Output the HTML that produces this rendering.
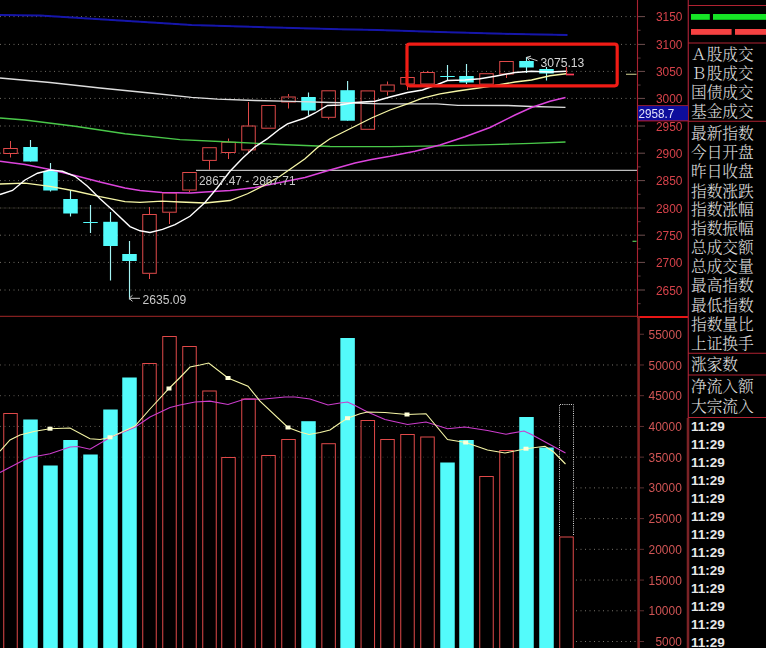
<!DOCTYPE html>
<html lang="zh-CN"><head><meta charset="utf-8"><title>K线图</title>
<style>html,body{margin:0;padding:0;background:#000;overflow:hidden}svg{display:block}</style></head>
<body>
<svg width="766" height="648" viewBox="0 0 766 648" style="display:block;background:#000">
<defs><filter id="b" x="-5%" y="-5%" width="110%" height="110%"><feGaussianBlur stdDeviation="0.6"/></filter></defs>
<rect width="766" height="648" fill="#000"/>
<g filter="url(#b)">
<line x1="0" x2="637" y1="16.6" y2="16.6" stroke="#706c64" stroke-width="1" stroke-dasharray="1 3.5"/>
<line x1="0" x2="637" y1="44.4" y2="44.4" stroke="#706c64" stroke-width="1" stroke-dasharray="1 3.5"/>
<line x1="0" x2="637" y1="71.4" y2="71.4" stroke="#706c64" stroke-width="1" stroke-dasharray="1 3.5"/>
<line x1="0" x2="637" y1="98.4" y2="98.4" stroke="#706c64" stroke-width="1" stroke-dasharray="1 3.5"/>
<line x1="0" x2="637" y1="126" y2="126" stroke="#706c64" stroke-width="1" stroke-dasharray="1 3.5"/>
<line x1="0" x2="637" y1="153.2" y2="153.2" stroke="#706c64" stroke-width="1" stroke-dasharray="1 3.5"/>
<line x1="0" x2="637" y1="180.6" y2="180.6" stroke="#706c64" stroke-width="1" stroke-dasharray="1 3.5"/>
<line x1="0" x2="637" y1="208" y2="208" stroke="#201f1d" stroke-width="1"/>
<line x1="0" x2="637" y1="208" y2="208" stroke="#4c4944" stroke-width="1" stroke-dasharray="1 3.5"/>
<line x1="0" x2="637" y1="235.2" y2="235.2" stroke="#706c64" stroke-width="1" stroke-dasharray="1 3.5"/>
<line x1="0" x2="637" y1="262.4" y2="262.4" stroke="#706c64" stroke-width="1" stroke-dasharray="1 3.5"/>
<line x1="0" x2="637" y1="290" y2="290" stroke="#706c64" stroke-width="1" stroke-dasharray="1 3.5"/>
<line x1="0" x2="576" y1="364.98" y2="364.98" stroke="#5c5850" stroke-width="1" stroke-dasharray="1 3.5"/>
<line x1="576" x2="637" y1="364.98" y2="364.98" stroke="#78746c" stroke-width="1" stroke-dasharray="1 3.5"/>
<line x1="0" x2="576" y1="395.70" y2="395.70" stroke="#5c5850" stroke-width="1" stroke-dasharray="1 3.5"/>
<line x1="576" x2="637" y1="395.70" y2="395.70" stroke="#78746c" stroke-width="1" stroke-dasharray="1 3.5"/>
<line x1="0" x2="576" y1="426.43" y2="426.43" stroke="#5c5850" stroke-width="1" stroke-dasharray="1 3.5"/>
<line x1="576" x2="637" y1="426.43" y2="426.43" stroke="#78746c" stroke-width="1" stroke-dasharray="1 3.5"/>
<line x1="0" x2="576" y1="457.15" y2="457.15" stroke="#34322e" stroke-width="1" stroke-dasharray="1 3.5"/>
<line x1="576" x2="637" y1="457.15" y2="457.15" stroke="#78746c" stroke-width="1" stroke-dasharray="1 3.5"/>
<line x1="576" x2="637" y1="487.88" y2="487.88" stroke="#78746c" stroke-width="1" stroke-dasharray="1 3.5"/>
<line x1="576" x2="637" y1="518.60" y2="518.60" stroke="#78746c" stroke-width="1" stroke-dasharray="1 3.5"/>
<line x1="576" x2="637" y1="549.33" y2="549.33" stroke="#78746c" stroke-width="1" stroke-dasharray="1 3.5"/>
<line x1="576" x2="637" y1="580.05" y2="580.05" stroke="#78746c" stroke-width="1" stroke-dasharray="1 3.5"/>
<line x1="576" x2="637" y1="610.78" y2="610.78" stroke="#78746c" stroke-width="1" stroke-dasharray="1 3.5"/>
<line x1="576" x2="637" y1="641.50" y2="641.50" stroke="#78746c" stroke-width="1" stroke-dasharray="1 3.5"/>
<line x1="196" x2="637" y1="170.4" y2="170.4" stroke="#bcbcbc" stroke-width="1.1"/>
<line x1="10.5" x2="10.5" y1="141" y2="148" stroke="#e04a4a" stroke-width="1"/>
<line x1="10.5" x2="10.5" y1="154" y2="157.5" stroke="#e04a4a" stroke-width="1"/>
<rect x="3.75" y="148.5" width="13.5" height="5" fill="none" stroke="#e04a4a" stroke-width="1"/>
<line x1="30.5" x2="30.5" y1="140" y2="161.5" stroke="#a4f4f4" stroke-width="1.15"/>
<rect x="23.25" y="147" width="14.5" height="14.5" fill="#52fbfb"/>
<line x1="50.5" x2="50.5" y1="163" y2="191.5" stroke="#a4f4f4" stroke-width="1.15"/>
<rect x="43.25" y="171" width="14.5" height="19.5" fill="#52fbfb"/>
<line x1="70.5" x2="70.5" y1="190" y2="216.5" stroke="#a4f4f4" stroke-width="1.15"/>
<rect x="63.25" y="199" width="14.5" height="14.5" fill="#52fbfb"/>
<line x1="90.5" x2="90.5" y1="205" y2="233" stroke="#a4f4f4" stroke-width="1.15"/>
<rect x="83.25" y="222" width="14.5" height="1" fill="#52fbfb"/>
<line x1="110.5" x2="110.5" y1="212" y2="280.5" stroke="#a4f4f4" stroke-width="1.15"/>
<rect x="103.25" y="221.8" width="14.5" height="24.19999999999999" fill="#52fbfb"/>
<line x1="129.5" x2="129.5" y1="241" y2="299.5" stroke="#a4f4f4" stroke-width="1.15"/>
<rect x="122.25" y="254" width="14.5" height="7" fill="#52fbfb"/>
<line x1="149.5" x2="149.5" y1="207" y2="214" stroke="#e04a4a" stroke-width="1"/>
<line x1="149.5" x2="149.5" y1="273.8" y2="279" stroke="#e04a4a" stroke-width="1"/>
<rect x="142.75" y="214.5" width="13.5" height="58.80000000000001" fill="none" stroke="#e04a4a" stroke-width="1"/>
<line x1="169.5" x2="169.5" y1="212.7" y2="224" stroke="#e04a4a" stroke-width="1"/>
<rect x="162.75" y="193.0" width="13.5" height="19.19999999999999" fill="none" stroke="#e04a4a" stroke-width="1"/>
<line x1="189.5" x2="189.5" y1="190.5" y2="192" stroke="#e04a4a" stroke-width="1"/>
<rect x="182.75" y="172.5" width="13.5" height="17.5" fill="none" stroke="#e04a4a" stroke-width="1"/>
<line x1="209.5" x2="209.5" y1="160.9" y2="169.8" stroke="#e04a4a" stroke-width="1"/>
<rect x="202.75" y="147.7" width="13.5" height="12.700000000000017" fill="none" stroke="#e04a4a" stroke-width="1"/>
<line x1="228.5" x2="228.5" y1="138.5" y2="141.8" stroke="#e04a4a" stroke-width="1"/>
<line x1="228.5" x2="228.5" y1="153" y2="159" stroke="#e04a4a" stroke-width="1"/>
<rect x="221.75" y="142.3" width="13.5" height="10.199999999999989" fill="none" stroke="#e04a4a" stroke-width="1"/>
<line x1="248.5" x2="248.5" y1="102" y2="125.5" stroke="#e04a4a" stroke-width="1"/>
<line x1="248.5" x2="248.5" y1="150.4" y2="153" stroke="#e04a4a" stroke-width="1"/>
<rect x="241.75" y="126.0" width="13.5" height="23.900000000000006" fill="none" stroke="#e04a4a" stroke-width="1"/>
<rect x="261.75" y="105.5" width="13.5" height="22.69999999999999" fill="none" stroke="#e04a4a" stroke-width="1"/>
<line x1="288.5" x2="288.5" y1="94" y2="96.5" stroke="#e04a4a" stroke-width="1"/>
<line x1="288.5" x2="288.5" y1="102.5" y2="108.5" stroke="#e04a4a" stroke-width="1"/>
<rect x="281.75" y="97.0" width="13.5" height="5.0" fill="none" stroke="#e04a4a" stroke-width="1"/>
<line x1="308.5" x2="308.5" y1="92.5" y2="115.5" stroke="#a4f4f4" stroke-width="1.15"/>
<rect x="301.25" y="97" width="14.5" height="13.5" fill="#52fbfb"/>
<line x1="328.6" x2="328.6" y1="117.8" y2="119.5" stroke="#e04a4a" stroke-width="1"/>
<rect x="321.85" y="90.8" width="13.5" height="26.5" fill="none" stroke="#e04a4a" stroke-width="1"/>
<line x1="347.6" x2="347.6" y1="81" y2="120.7" stroke="#a4f4f4" stroke-width="1.15"/>
<rect x="340.35" y="90.2" width="14.5" height="30.5" fill="#52fbfb"/>
<rect x="361.05" y="90.9" width="13.5" height="38.400000000000006" fill="none" stroke="#e04a4a" stroke-width="1"/>
<line x1="387.5" x2="387.5" y1="81.5" y2="84.5" stroke="#e04a4a" stroke-width="1"/>
<line x1="387.5" x2="387.5" y1="91.6" y2="95.5" stroke="#e04a4a" stroke-width="1"/>
<rect x="380.75" y="85.0" width="13.5" height="6.099999999999994" fill="none" stroke="#e04a4a" stroke-width="1"/>
<line x1="407.5" x2="407.5" y1="84.5" y2="90" stroke="#e04a4a" stroke-width="1"/>
<rect x="400.75" y="77.5" width="13.5" height="6.5" fill="none" stroke="#e04a4a" stroke-width="1"/>
<line x1="427.5" x2="427.5" y1="71" y2="72" stroke="#e04a4a" stroke-width="1"/>
<rect x="420.75" y="72.5" width="13.5" height="11.5" fill="none" stroke="#e04a4a" stroke-width="1"/>
<line x1="447.5" x2="447.5" y1="65" y2="80" stroke="#a4f4f4" stroke-width="1.15"/>
<rect x="440.25" y="76" width="14.5" height="1" fill="#52fbfb"/>
<line x1="466.5" x2="466.5" y1="64" y2="84" stroke="#a4f4f4" stroke-width="1.15"/>
<rect x="459.25" y="76" width="14.5" height="6.5" fill="#52fbfb"/>
<rect x="479.75" y="73.7" width="13.5" height="10.399999999999991" fill="none" stroke="#e04a4a" stroke-width="1"/>
<line x1="506.5" x2="506.5" y1="74.5" y2="78" stroke="#e04a4a" stroke-width="1"/>
<rect x="499.75" y="61.5" width="13.5" height="12.5" fill="none" stroke="#e04a4a" stroke-width="1"/>
<line x1="526.5" x2="526.5" y1="57" y2="73" stroke="#a4f4f4" stroke-width="1.15"/>
<rect x="519.25" y="61" width="14.5" height="6.5" fill="#52fbfb"/>
<line x1="546.5" x2="546.5" y1="67" y2="80.5" stroke="#a4f4f4" stroke-width="1.15"/>
<rect x="539.25" y="69" width="14.5" height="4.5" fill="#52fbfb"/>
<path d="M566.5 67V74.5" stroke="#e84848" stroke-width="1.1" fill="none"/><path d="M566 74.5H574" stroke="#ff3c58" stroke-width="1.7" fill="none"/>
<polyline points="0,15 40,15.5 80,18 120,20.5 160,23 191.5,25 265,27.2 340,29.2 377.5,30 440,32 515,34 567.5,35" fill="none" stroke="#1515aa" stroke-width="2"/>
<polyline points="0,78 50,82.5 100,88 150,93 191.5,97.3 217.5,99.2 255,100.5 292.5,101.4 330,102.5 355,103 380,103.8 437,103.9 458,105.3 508,105.5 531.5,106.5 565.5,107.4" fill="none" stroke="#dcdcdc" stroke-width="1.35"/>
<polyline points="0,118 25,120 75,126.25 125,133.75 180,139.6 230,142 280,144.5 330,146.5 390,146.6 440,145.9 490,144.7 531.5,143.3 565.5,142" fill="none" stroke="#4ac84a" stroke-width="1.35"/>
<polyline points="0,161.25 25,164.5 50,169.5 75,175.5 100,182 125,188 140,190.5 162,192.5 191,193 205,192 230,190.5 255,187.5 280,182.5 305,177.5 330,170 355,163 371.5,159.6 390,156.3 415,151.2 440,145 465,136.8 490,127.5 515,115 531.5,107.5 550,101.25 565.5,97.5" fill="none" stroke="#dc44dc" stroke-width="1.5"/>
<polyline points="0,184 25,183.2 50,186.4 75,191 100,196.6 125,201.6 140,202.3 162,201.2 180,202 205,203 230,200.5 247.5,193.75 262.5,186.25 280,176.25 292.5,167.5 305,158.75 317.5,147.5 330,138.75 342.5,132.5 355,126.25 371.5,118 390,110 407.5,103.8 422.5,98.2 440,93.8 457.5,91 475,88.5 495,85.5 515,82 531.5,80 550,75.75 566,73.75" fill="none" stroke="#f6f6a6" stroke-width="1.3"/>
<polyline points="0,194.5 12.5,190.5 25,180 37.5,173.25 50,170 62.5,171.25 75,176.25 87.5,186.25 100,198.75 112.5,210 130,226.6 140,230.8 150,232.5 162.5,229.4 175,224.6 190,216.25 205,202.5 217.5,187.5 230,171.25 242.5,158.2 255,146.8 267.5,138.6 280,128.8 287.5,123.8 305,118 315,113 327.5,105.5 340,105 355,102.5 375,101.25 390,97 407.5,92.5 422.5,90 437.5,84.5 447.5,80.5 465,80 480,78.75 495,76.25 515,72.5 531.5,71.25 550,72 566,71.25" fill="none" stroke="#ffffff" stroke-width="1.4"/>
<rect x="3.75" y="413.5" width="13.5" height="247" fill="none" stroke="#e04a4a" stroke-width="1"/>
<rect x="23.25" y="419.5" width="14.5" height="240.5" fill="#52fbfb"/>
<rect x="43.25" y="465.5" width="14.5" height="194.5" fill="#52fbfb"/>
<rect x="63.25" y="440" width="14.5" height="220" fill="#52fbfb"/>
<rect x="83.25" y="454.5" width="14.5" height="205.5" fill="#52fbfb"/>
<rect x="103.25" y="409.5" width="14.5" height="250.5" fill="#52fbfb"/>
<rect x="122.25" y="377.5" width="14.5" height="282.5" fill="#52fbfb"/>
<rect x="142.75" y="363.5" width="13.5" height="297" fill="none" stroke="#e04a4a" stroke-width="1"/>
<rect x="162.75" y="336.5" width="13.5" height="324" fill="none" stroke="#e04a4a" stroke-width="1"/>
<rect x="182.75" y="346.5" width="13.5" height="314" fill="none" stroke="#e04a4a" stroke-width="1"/>
<rect x="202.75" y="391.0" width="13.5" height="269.5" fill="none" stroke="#e04a4a" stroke-width="1"/>
<rect x="221.75" y="457.5" width="13.5" height="203" fill="none" stroke="#e04a4a" stroke-width="1"/>
<rect x="241.75" y="399.0" width="13.5" height="261.5" fill="none" stroke="#e04a4a" stroke-width="1"/>
<rect x="261.75" y="455.5" width="13.5" height="205" fill="none" stroke="#e04a4a" stroke-width="1"/>
<rect x="281.75" y="439.5" width="13.5" height="221" fill="none" stroke="#e04a4a" stroke-width="1"/>
<rect x="301.25" y="421.2" width="14.5" height="238.8" fill="#52fbfb"/>
<rect x="321.85" y="443.7" width="13.5" height="216.8" fill="none" stroke="#e04a4a" stroke-width="1"/>
<rect x="340.35" y="338" width="14.5" height="322" fill="#52fbfb"/>
<rect x="361.05" y="420.5" width="13.5" height="240" fill="none" stroke="#e04a4a" stroke-width="1"/>
<rect x="380.75" y="439.5" width="13.5" height="221" fill="none" stroke="#e04a4a" stroke-width="1"/>
<rect x="400.75" y="434.5" width="13.5" height="226" fill="none" stroke="#e04a4a" stroke-width="1"/>
<rect x="420.75" y="437.0" width="13.5" height="223.5" fill="none" stroke="#e04a4a" stroke-width="1"/>
<rect x="440.25" y="462.5" width="14.5" height="197.5" fill="#52fbfb"/>
<rect x="459.25" y="440" width="14.5" height="220" fill="#52fbfb"/>
<rect x="479.75" y="476.5" width="13.5" height="184" fill="none" stroke="#e04a4a" stroke-width="1"/>
<rect x="499.75" y="450.5" width="13.5" height="210" fill="none" stroke="#e04a4a" stroke-width="1"/>
<rect x="519.25" y="417" width="14.5" height="243" fill="#52fbfb"/>
<rect x="539.25" y="447.5" width="14.5" height="212.5" fill="#52fbfb"/>
<rect x="559.75" y="537.0" width="13.5" height="123.5" fill="none" stroke="#e04a4a" stroke-width="1"/>
<path d="M559.5 536V404.5H573.5V536" fill="none" stroke="#d8d8d8" stroke-width="1" stroke-dasharray="1 1.2"/>
<polyline points="0,472.5 22,461 30,457.5 50,453.7 70,447 78,446.5 90,449.2 110,437.5 135,427.3 150,417 170,407.5 180,405 195,402 210,401.2 228,404.5 245,399 262,399.2 285,397 295,397 310,399 328,405 340,403 347.5,402 355,405.5 367.5,412 385,419.5 407.5,424.5 426,422 447.5,428.7 465,427 487.5,430.5 506,434.2 524,431 531.5,434.5 565.5,453" fill="none" stroke="#cc3ccc" stroke-width="1.15"/>
<polyline points="0,451.2 10,440 20,435 35,431.2 50,428.7 70,428 90,438.7 100,439.5 110,437.5 135,426 150,409 169,388.5 180,377.5 190,367 200,365 208.7,363 228,378 248,386.2 260,401.2 288,427.5 300,432 309,434.5 320,432.5 330,430 340,423 347.5,418.2 360,413.7 367.5,412 385,412.5 407,414.5 426,413.7 447.5,439.5 465.7,442.5 487.5,450 505,453 526,448.7 545,446.2 553.7,452 565.5,464" fill="none" stroke="#f6f6a6" stroke-width="1.1"/>
<rect x="47.5" y="426.7" width="5" height="4" fill="#ffffd8"/>
<rect x="107.5" y="435.3" width="5" height="4" fill="#ffffd8"/>
<rect x="166.5" y="386.5" width="5" height="4" fill="#ffffd8"/>
<rect x="225.5" y="376" width="5" height="4" fill="#ffffd8"/>
<rect x="285.5" y="425.5" width="5" height="4" fill="#ffffd8"/>
<rect x="345.0" y="416.2" width="5" height="4" fill="#ffffd8"/>
<rect x="404.5" y="412.5" width="5" height="4" fill="#ffffd8"/>
<rect x="463.2" y="440.5" width="5" height="4" fill="#ffffd8"/>
<rect x="523.5" y="446.7" width="5" height="4" fill="#ffffd8"/>
<line x1="0" x2="637" y1="316.3" y2="316.3" stroke="#a42626" stroke-width="1"/>
<line x1="637" x2="688" y1="317" y2="317" stroke="#e81818" stroke-width="2"/>
<line x1="637.5" x2="637.5" y1="0" y2="316" stroke="#a82430" stroke-width="1.15"/>
<line x1="638.6" x2="638.6" y1="316" y2="648" stroke="#882424" stroke-width="2.5"/>
<line x1="688.3" x2="688.3" y1="0" y2="418" stroke="#962030" stroke-width="1.3"/>
<line x1="688" x2="688" y1="418" y2="648" stroke="#7a2026" stroke-width="2.6"/>
<line x1="638" x2="645" y1="16.6" y2="16.6" stroke="#6e4e4e" stroke-width="1"/>
<line x1="638" x2="640.6" y1="30.27" y2="30.27" stroke="#5a3c3c" stroke-width="1"/>
<line x1="638" x2="645" y1="44.4" y2="44.4" stroke="#6e4e4e" stroke-width="1"/>
<line x1="638" x2="640.6" y1="58.06" y2="58.06" stroke="#5a3c3c" stroke-width="1"/>
<line x1="638" x2="645" y1="71.4" y2="71.4" stroke="#6e4e4e" stroke-width="1"/>
<line x1="638" x2="640.6" y1="85.06" y2="85.06" stroke="#5a3c3c" stroke-width="1"/>
<line x1="638" x2="645" y1="98.4" y2="98.4" stroke="#6e4e4e" stroke-width="1"/>
<line x1="638" x2="640.6" y1="112.06" y2="112.06" stroke="#5a3c3c" stroke-width="1"/>
<line x1="638" x2="645" y1="126" y2="126" stroke="#6e4e4e" stroke-width="1"/>
<line x1="638" x2="640.6" y1="139.66" y2="139.66" stroke="#5a3c3c" stroke-width="1"/>
<line x1="638" x2="645" y1="153.2" y2="153.2" stroke="#6e4e4e" stroke-width="1"/>
<line x1="638" x2="640.6" y1="166.86" y2="166.86" stroke="#5a3c3c" stroke-width="1"/>
<line x1="638" x2="645" y1="180.6" y2="180.6" stroke="#6e4e4e" stroke-width="1"/>
<line x1="638" x2="640.6" y1="194.26" y2="194.26" stroke="#5a3c3c" stroke-width="1"/>
<line x1="638" x2="645" y1="208" y2="208" stroke="#6e4e4e" stroke-width="1"/>
<line x1="638" x2="640.6" y1="221.66" y2="221.66" stroke="#5a3c3c" stroke-width="1"/>
<line x1="638" x2="645" y1="235.2" y2="235.2" stroke="#6e4e4e" stroke-width="1"/>
<line x1="638" x2="640.6" y1="248.86" y2="248.86" stroke="#5a3c3c" stroke-width="1"/>
<line x1="638" x2="645" y1="262.4" y2="262.4" stroke="#6e4e4e" stroke-width="1"/>
<line x1="638" x2="640.6" y1="276.06" y2="276.06" stroke="#5a3c3c" stroke-width="1"/>
<line x1="638" x2="645" y1="290" y2="290" stroke="#6e4e4e" stroke-width="1"/>
<line x1="638" x2="640.6" y1="303.67" y2="303.67" stroke="#5a3c3c" stroke-width="1"/>
<line x1="639" x2="644" y1="334.25" y2="334.25" stroke="#5c3030" stroke-width="1"/>
<line x1="639" x2="644" y1="364.98" y2="364.98" stroke="#5c3030" stroke-width="1"/>
<line x1="639" x2="644" y1="395.70" y2="395.70" stroke="#5c3030" stroke-width="1"/>
<line x1="639" x2="644" y1="426.43" y2="426.43" stroke="#5c3030" stroke-width="1"/>
<line x1="639" x2="644" y1="457.15" y2="457.15" stroke="#5c3030" stroke-width="1"/>
<line x1="639" x2="644" y1="487.88" y2="487.88" stroke="#5c3030" stroke-width="1"/>
<line x1="639" x2="644" y1="518.60" y2="518.60" stroke="#5c3030" stroke-width="1"/>
<line x1="639" x2="644" y1="549.33" y2="549.33" stroke="#5c3030" stroke-width="1"/>
<line x1="639" x2="644" y1="580.05" y2="580.05" stroke="#5c3030" stroke-width="1"/>
<line x1="639" x2="644" y1="610.78" y2="610.78" stroke="#5c3030" stroke-width="1"/>
<line x1="639" x2="644" y1="641.50" y2="641.50" stroke="#5c3030" stroke-width="1"/>
<rect x="407" y="44.2" width="210.2" height="41.6" rx="2.5" ry="2.5" fill="none" stroke="#f01c14" stroke-width="3.2"/>
<line x1="626" x2="636.5" y1="74.3" y2="74.3" stroke="#b4b47c" stroke-width="1.2"/>
<line x1="632.5" x2="636.5" y1="241.3" y2="241.3" stroke="#58c858" stroke-width="1.2"/>
<rect x="638" y="105.5" width="50" height="15.5" fill="#0c0c9c"/>
<line x1="637" x2="688" y1="120.9" y2="120.9" stroke="#c02028" stroke-width="1"/>
<line x1="638" x2="688" y1="105.6" y2="105.6" stroke="#a02030" stroke-width="0.9"/>
<line x1="688" x2="766" y1="5.5" y2="5.5" stroke="#b02430" stroke-width="1.1"/>
<line x1="688" x2="766" y1="43" y2="43" stroke="#b02430" stroke-width="1.1"/>
<line x1="688" x2="766" y1="121.3" y2="121.3" stroke="#b02430" stroke-width="1.1"/>
<line x1="688" x2="766" y1="353.3" y2="353.3" stroke="#b02430" stroke-width="1.1"/>
<line x1="688" x2="766" y1="375" y2="375" stroke="#b02430" stroke-width="1.1"/>
<line x1="688" x2="766" y1="417.5" y2="417.5" stroke="#b02430" stroke-width="1.1"/>
<rect x="691" y="14" width="18.8" height="5.8" fill="#14e426"/><rect x="713" y="14" width="53" height="5.8" fill="#14e426"/>
<rect x="691" y="29" width="40.6" height="5.8" fill="#f64242"/><rect x="735" y="29" width="31" height="5.8" fill="#f64242"/>
<text x="655.9" y="21.1" font-family="Liberation Sans, sans-serif" font-size="12.3" fill="#d6424a" text-anchor="start" textLength="26.5" lengthAdjust="spacingAndGlyphs">3150</text>
<text x="655.9" y="48.9" font-family="Liberation Sans, sans-serif" font-size="12.3" fill="#d6424a" text-anchor="start" textLength="26.5" lengthAdjust="spacingAndGlyphs">3100</text>
<text x="655.9" y="75.9" font-family="Liberation Sans, sans-serif" font-size="12.3" fill="#d6424a" text-anchor="start" textLength="26.5" lengthAdjust="spacingAndGlyphs">3050</text>
<text x="655.9" y="102.9" font-family="Liberation Sans, sans-serif" font-size="12.3" fill="#d6424a" text-anchor="start" textLength="26.5" lengthAdjust="spacingAndGlyphs">3000</text>
<text x="655.9" y="130.5" font-family="Liberation Sans, sans-serif" font-size="12.3" fill="#d6424a" text-anchor="start" textLength="26.5" lengthAdjust="spacingAndGlyphs">2950</text>
<text x="655.9" y="157.7" font-family="Liberation Sans, sans-serif" font-size="12.3" fill="#d6424a" text-anchor="start" textLength="26.5" lengthAdjust="spacingAndGlyphs">2900</text>
<text x="655.9" y="185.1" font-family="Liberation Sans, sans-serif" font-size="12.3" fill="#d6424a" text-anchor="start" textLength="26.5" lengthAdjust="spacingAndGlyphs">2850</text>
<text x="655.9" y="212.5" font-family="Liberation Sans, sans-serif" font-size="12.3" fill="#d6424a" text-anchor="start" textLength="26.5" lengthAdjust="spacingAndGlyphs">2800</text>
<text x="655.9" y="239.7" font-family="Liberation Sans, sans-serif" font-size="12.3" fill="#d6424a" text-anchor="start" textLength="26.5" lengthAdjust="spacingAndGlyphs">2750</text>
<text x="655.9" y="266.9" font-family="Liberation Sans, sans-serif" font-size="12.3" fill="#d6424a" text-anchor="start" textLength="26.5" lengthAdjust="spacingAndGlyphs">2700</text>
<text x="655.9" y="294.5" font-family="Liberation Sans, sans-serif" font-size="12.3" fill="#d6424a" text-anchor="start" textLength="26.5" lengthAdjust="spacingAndGlyphs">2650</text>
<text x="648.5999999999999" y="338.85" font-family="Liberation Sans, sans-serif" font-size="12.3" fill="#d05454" text-anchor="start" textLength="33.2" lengthAdjust="spacingAndGlyphs">55000</text>
<text x="648.5999999999999" y="369.57500000000005" font-family="Liberation Sans, sans-serif" font-size="12.3" fill="#d05454" text-anchor="start" textLength="33.2" lengthAdjust="spacingAndGlyphs">50000</text>
<text x="648.5999999999999" y="400.3" font-family="Liberation Sans, sans-serif" font-size="12.3" fill="#d05454" text-anchor="start" textLength="33.2" lengthAdjust="spacingAndGlyphs">45000</text>
<text x="648.5999999999999" y="431.02500000000003" font-family="Liberation Sans, sans-serif" font-size="12.3" fill="#d05454" text-anchor="start" textLength="33.2" lengthAdjust="spacingAndGlyphs">40000</text>
<text x="648.5999999999999" y="461.75" font-family="Liberation Sans, sans-serif" font-size="12.3" fill="#d05454" text-anchor="start" textLength="33.2" lengthAdjust="spacingAndGlyphs">35000</text>
<text x="648.5999999999999" y="492.475" font-family="Liberation Sans, sans-serif" font-size="12.3" fill="#d05454" text-anchor="start" textLength="33.2" lengthAdjust="spacingAndGlyphs">30000</text>
<text x="648.5999999999999" y="523.2" font-family="Liberation Sans, sans-serif" font-size="12.3" fill="#d05454" text-anchor="start" textLength="33.2" lengthAdjust="spacingAndGlyphs">25000</text>
<text x="648.5999999999999" y="553.9250000000001" font-family="Liberation Sans, sans-serif" font-size="12.3" fill="#d05454" text-anchor="start" textLength="33.2" lengthAdjust="spacingAndGlyphs">20000</text>
<text x="648.5999999999999" y="584.65" font-family="Liberation Sans, sans-serif" font-size="12.3" fill="#d05454" text-anchor="start" textLength="33.2" lengthAdjust="spacingAndGlyphs">15000</text>
<text x="648.5999999999999" y="615.3750000000001" font-family="Liberation Sans, sans-serif" font-size="12.3" fill="#d05454" text-anchor="start" textLength="33.2" lengthAdjust="spacingAndGlyphs">10000</text>
<text x="655.5" y="646.1" font-family="Liberation Sans, sans-serif" font-size="12.3" fill="#d05454" text-anchor="start" textLength="26.3" lengthAdjust="spacingAndGlyphs">5000</text>
<text x="638.6" y="117.7" font-family="Liberation Sans, sans-serif" font-size="12.3" fill="#e2e2fa" text-anchor="start" textLength="35.8" lengthAdjust="spacingAndGlyphs">2958.7</text>
<text x="199" y="185" font-family="Liberation Sans, sans-serif" font-size="12.3" fill="#c8c8c8" text-anchor="start" textLength="96.5" lengthAdjust="spacingAndGlyphs">2867.47 - 2867.71</text>
<text x="142.5" y="303.7" font-family="Liberation Sans, sans-serif" font-size="12.3" fill="#c8c8c8" text-anchor="start" textLength="43.8" lengthAdjust="spacingAndGlyphs">2635.09</text>
<text x="540.5" y="67.2" font-family="Liberation Sans, sans-serif" font-size="12.3" fill="#d4d4d4" text-anchor="start" textLength="43.8" lengthAdjust="spacingAndGlyphs">3075.13</text>
<path d="M129 298.3H140M129 298.3l3.5-3M129 298.3l3.5 3" stroke="#c8c8c8" stroke-width="1" fill="none"/>
<path d="M526.8 57.3L537.5 60.8M526.8 57.3l4.2-1.2M526.8 57.3l2.6 3.4" stroke="#c8c8c8" stroke-width="1" fill="none"/>
</g>
<text x="691" y="59.9" font-family="Liberation Serif, Noto Serif CJK SC, serif" font-size="15.7" fill="#e2e2e2" font-weight="300">Ａ股成交</text>
<text x="691" y="79.1" font-family="Liberation Serif, Noto Serif CJK SC, serif" font-size="15.7" fill="#e2e2e2" font-weight="300">Ｂ股成交</text>
<text x="691" y="98.0" font-family="Liberation Serif, Noto Serif CJK SC, serif" font-size="15.7" fill="#e2e2e2" font-weight="300">国债成交</text>
<text x="691" y="116.89999999999999" font-family="Liberation Serif, Noto Serif CJK SC, serif" font-size="15.7" fill="#e2e2e2" font-weight="300">基金成交</text>
<text x="691" y="138.6" font-family="Liberation Serif, Noto Serif CJK SC, serif" font-size="15.7" fill="#e2e2e2" font-weight="300">最新指数</text>
<text x="691" y="158.1" font-family="Liberation Serif, Noto Serif CJK SC, serif" font-size="15.7" fill="#e2e2e2" font-weight="300">今日开盘</text>
<text x="691" y="177.4" font-family="Liberation Serif, Noto Serif CJK SC, serif" font-size="15.7" fill="#e2e2e2" font-weight="300">昨日收盘</text>
<text x="691" y="196.6" font-family="Liberation Serif, Noto Serif CJK SC, serif" font-size="15.7" fill="#e2e2e2" font-weight="300">指数涨跌</text>
<text x="691" y="214.9" font-family="Liberation Serif, Noto Serif CJK SC, serif" font-size="15.7" fill="#e2e2e2" font-weight="300">指数涨幅</text>
<text x="691" y="233.6" font-family="Liberation Serif, Noto Serif CJK SC, serif" font-size="15.7" fill="#e2e2e2" font-weight="300">指数振幅</text>
<text x="691" y="252.9" font-family="Liberation Serif, Noto Serif CJK SC, serif" font-size="15.7" fill="#e2e2e2" font-weight="300">总成交额</text>
<text x="691" y="272.20000000000005" font-family="Liberation Serif, Noto Serif CJK SC, serif" font-size="15.7" fill="#e2e2e2" font-weight="300">总成交量</text>
<text x="691" y="291.1" font-family="Liberation Serif, Noto Serif CJK SC, serif" font-size="15.7" fill="#e2e2e2" font-weight="300">最高指数</text>
<text x="691" y="310.6" font-family="Liberation Serif, Noto Serif CJK SC, serif" font-size="15.7" fill="#e2e2e2" font-weight="300">最低指数</text>
<text x="691" y="329.6" font-family="Liberation Serif, Noto Serif CJK SC, serif" font-size="15.7" fill="#e2e2e2" font-weight="300">指数量比</text>
<text x="691" y="348.6" font-family="Liberation Serif, Noto Serif CJK SC, serif" font-size="15.7" fill="#e2e2e2" font-weight="300">上证换手</text>
<text x="691" y="369.90000000000003" font-family="Liberation Serif, Noto Serif CJK SC, serif" font-size="15.7" fill="#e2e2e2" font-weight="300">涨家数</text>
<text x="691" y="392.40000000000003" font-family="Liberation Serif, Noto Serif CJK SC, serif" font-size="15.7" fill="#e2e2e2" font-weight="300">净流入额</text>
<text x="691" y="411.6" font-family="Liberation Serif, Noto Serif CJK SC, serif" font-size="15.7" fill="#e2e2e2" font-weight="300">大宗流入</text>
<text x="691" y="431.3" font-family="Liberation Sans, sans-serif" font-size="12.9" font-weight="bold" fill="#e8e8e8" textLength="33.8" lengthAdjust="spacingAndGlyphs">11:29</text>
<text x="691" y="449.3" font-family="Liberation Sans, sans-serif" font-size="12.9" font-weight="bold" fill="#e8e8e8" textLength="33.8" lengthAdjust="spacingAndGlyphs">11:29</text>
<text x="691" y="467.3" font-family="Liberation Sans, sans-serif" font-size="12.9" font-weight="bold" fill="#e8e8e8" textLength="33.8" lengthAdjust="spacingAndGlyphs">11:29</text>
<text x="691" y="485.3" font-family="Liberation Sans, sans-serif" font-size="12.9" font-weight="bold" fill="#e8e8e8" textLength="33.8" lengthAdjust="spacingAndGlyphs">11:29</text>
<text x="691" y="503.3" font-family="Liberation Sans, sans-serif" font-size="12.9" font-weight="bold" fill="#e8e8e8" textLength="33.8" lengthAdjust="spacingAndGlyphs">11:29</text>
<text x="691" y="521.3" font-family="Liberation Sans, sans-serif" font-size="12.9" font-weight="bold" fill="#e8e8e8" textLength="33.8" lengthAdjust="spacingAndGlyphs">11:29</text>
<text x="691" y="539.3" font-family="Liberation Sans, sans-serif" font-size="12.9" font-weight="bold" fill="#e8e8e8" textLength="33.8" lengthAdjust="spacingAndGlyphs">11:29</text>
<text x="691" y="557.3" font-family="Liberation Sans, sans-serif" font-size="12.9" font-weight="bold" fill="#e8e8e8" textLength="33.8" lengthAdjust="spacingAndGlyphs">11:29</text>
<text x="691" y="575.3" font-family="Liberation Sans, sans-serif" font-size="12.9" font-weight="bold" fill="#e8e8e8" textLength="33.8" lengthAdjust="spacingAndGlyphs">11:29</text>
<text x="691" y="593.3" font-family="Liberation Sans, sans-serif" font-size="12.9" font-weight="bold" fill="#e8e8e8" textLength="33.8" lengthAdjust="spacingAndGlyphs">11:29</text>
<text x="691" y="611.3" font-family="Liberation Sans, sans-serif" font-size="12.9" font-weight="bold" fill="#e8e8e8" textLength="33.8" lengthAdjust="spacingAndGlyphs">11:29</text>
<text x="691" y="629.3" font-family="Liberation Sans, sans-serif" font-size="12.9" font-weight="bold" fill="#e8e8e8" textLength="33.8" lengthAdjust="spacingAndGlyphs">11:29</text>
<text x="691" y="647.3" font-family="Liberation Sans, sans-serif" font-size="12.9" font-weight="bold" fill="#e8e8e8" textLength="33.8" lengthAdjust="spacingAndGlyphs">11:29</text>
</svg>
</body></html>
